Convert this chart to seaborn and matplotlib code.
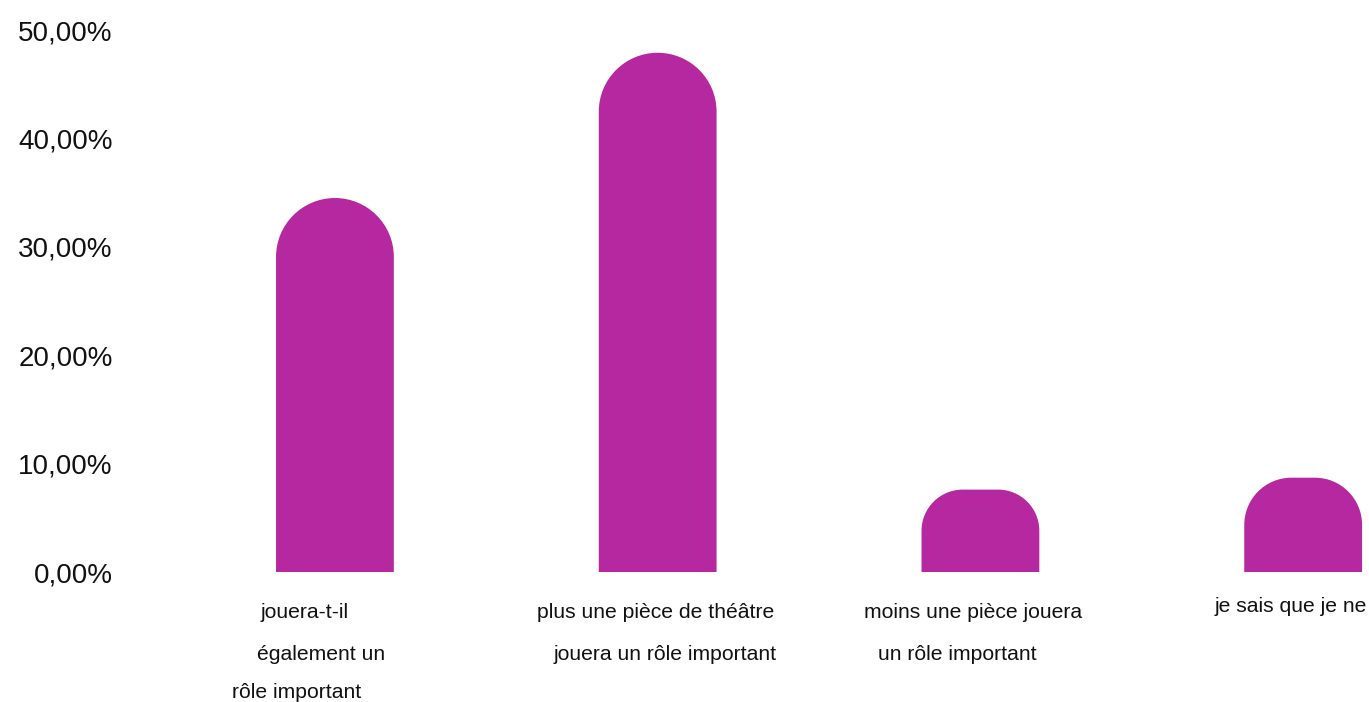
import pandas as pd
import seaborn as sns
import matplotlib.pyplot as plt
from matplotlib.path import Path
from matplotlib.patches import PathPatch
from matplotlib.transforms import offset_copy

# values
categories = ["jouera-t-il également un rôle important",
              "plus une pièce de théâtre jouera un rôle important",
              "moins une pièce jouera un rôle important",
              "je sais que je ne"]
label_lines = [["jouera-t-il", "également un", "rôle important"],
               ["plus une pièce de théâtre", "jouera un rôle important"],
               ["moins une pièce jouera", "un rôle important"],
               ["je sais que je ne"]]
values = [34.5, 47.9, 7.6, 8.7]
y_ticks = [0, 10, 20, 30, 40, 50]

# layout of the wrapped category labels (pixel offsets from bar centre)
label_dx = [[-30, -14, -38], [-2, 7], [-7, -23], [-12]]
label_dy = [[41, 83, 120], [41, 83], [41, 83], [35]]

BAR = "#B5289F"


def rounded_top(ax, patch):
    x0, y0 = patch.get_x(), patch.get_y()
    x1, y1 = x0 + patch.get_width(), y0 + patch.get_height()
    (px0, py0), (px1, py1) = ax.transData.transform([(x0, y0), (x1, y1)])
    r = min((px1 - px0) / 2, (py1 - py0) / 2)
    k = 0.5523 * r
    verts = [(px0, py0), (px0, py1 - r),
             (px0, py1 - r + k), (px0 + r - k, py1), (px0 + r, py1),
             (px1 - r, py1),
             (px1 - r + k, py1), (px1, py1 - r + k), (px1, py1 - r),
             (px1, py0), (px0, py0)]
    codes = [Path.MOVETO, Path.LINETO,
             Path.CURVE4, Path.CURVE4, Path.CURVE4,
             Path.LINETO,
             Path.CURVE4, Path.CURVE4, Path.CURVE4,
             Path.LINETO, Path.CLOSEPOLY]
    verts = ax.transData.inverted().transform(verts)
    return PathPatch(Path(verts, codes), facecolor=BAR, edgecolor="none")


def main():
    sns.set_theme(style="white")
    plt.rcParams["font.family"] = ["Liberation Sans", "DejaVu Sans"]

    df = pd.DataFrame({"cat": categories, "val": values})

    fig = plt.figure(figsize=(13.69, 7.02), dpi=100)
    ax = fig.add_axes([150 / 1369, 130 / 702, 1219 / 1369, 542 / 702])
    sns.barplot(data=df, x="cat", y="val", color=BAR, width=0.365,
                saturation=1, ax=ax)

    ax.set_xlim(-0.573, 3.204)
    ax.set_ylim(0, 50)
    ax.set_yticks(y_ticks)
    ax.set_yticklabels([f"{t:.2f}%".replace(".", ",") for t in y_ticks],
                       fontsize=20, color="#111111")
    ax.tick_params(axis="y", length=0, pad=27)
    ax.set_xticks([])
    ax.set_xlabel("")
    ax.set_ylabel("")
    sns.despine(ax=ax, left=True, bottom=True)

    for p in list(ax.patches):
        ax.add_patch(rounded_top(ax, p))
        p.set_visible(False)

    for i, lines in enumerate(label_lines):
        for line, dx, dy in zip(lines, label_dx[i], label_dy[i]):
            tr = offset_copy(ax.transData, fig=fig, x=dx, y=-dy, units="dots")
            ax.text(i, 0, line, transform=tr, ha="center", va="center",
                    fontsize=15.2, color="#111111", clip_on=False)

    fig.savefig("out.png", dpi=100)


if __name__ == "__main__":
    main()
